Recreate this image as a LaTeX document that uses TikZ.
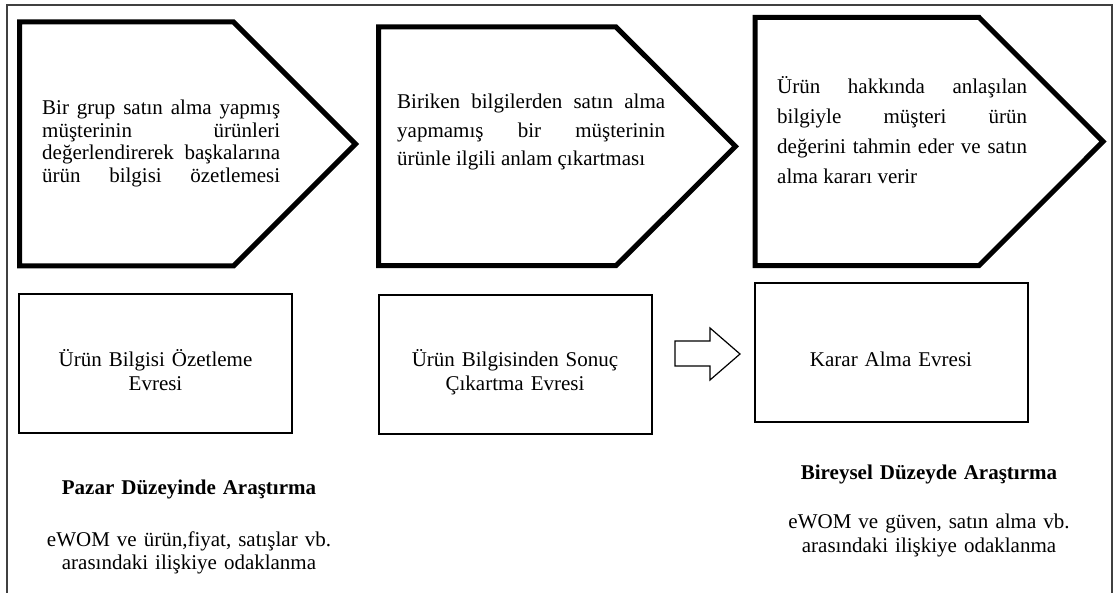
\documentclass[tikz,border=0pt]{standalone}
\usepackage{fontspec}
\setmainfont{Liberation Serif}
% one line set to a given width, its word spaces stretched to fill it
\newcommand\stretchline[2]{\makebox[#1][s]{\spaceskip=0pt\xspaceskip=0pt\relax #2}}
\begin{document}
\begin{tikzpicture}[x=1pt,y=-1pt,
  frameline/.style={draw=black!75, line width=1.3pt},
  stagebox/.style={draw=black, line width=5pt, line join=miter},
  phasebox/.style={draw=black, line width=2pt, inner sep=0pt, outer sep=0pt,
                   minimum width=273pt, minimum height=139pt},
  blockarrow/.style={draw=black, line width=1.2pt, line join=miter, fill=white},
  bodytext/.style={font=\fontsize{21}{24}\selectfont, inner sep=0pt, anchor=base,
                   text width=300pt, align=center},
  stagetext/.style={inner sep=0pt, anchor=base west, align=justify}
]
\useasboundingbox (0,0) rectangle (1117,593);

% open outer frame
\draw[frameline] (7,593) -- (7,5) -- (1112,5) -- (1112,593);

% the three stage pentagons
\draw[stagebox] (19.5,22) -- (233.5,22) -- (355.5,144) -- (233.5,266) -- (19.5,266) -- cycle;
\draw[stagebox] (378.5,27) -- (616,27) -- (735.5,146.4) -- (616,265.7) -- (378.5,265.7) -- cycle;
\draw[stagebox] (755,17.3) -- (979,17.3) -- (1103,141.5) -- (979,265.7) -- (755,265.7) -- cycle;

% stage descriptions
\node[stagetext, text width=238pt, font=\fontsize{21}{22.5}\selectfont] (s1) at (42,115)
  {\stretchline{238pt}{Bir grup satın alma yapmış}\\
   \stretchline{238pt}{müşterinin ürünleri}\\
   \stretchline{238pt}{değerlendirerek başkalarına}\\
   \stretchline{238pt}{ürün bilgisi özetlemesi}};
\node[stagetext, text width=268pt, font=\fontsize{21}{28.5}\selectfont] (s2) at (397,109)
  {\stretchline{268pt}{Biriken bilgilerden satın alma}\\
   \stretchline{268pt}{yapmamış bir müşterinin}\\
   ürünle ilgili anlam çıkartması};
\node[stagetext, text width=250pt, font=\fontsize{21}{30}\selectfont] (s3) at (777,94)
  {\stretchline{250pt}{Ürün hakkında anlaşılan}\\
   \stretchline{250pt}{bilgiyle müşteri ürün}\\
   \stretchline{250pt}{değerini tahmin eder ve satın}\\
   alma kararı verir};

% phase boxes
\node[phasebox] (p1) at (155.5,364) {};
\node[phasebox] (p2) at (515,364.5) {};
\node[phasebox] (p3) at (891,352.5) {};
\node[bodytext] (p1t) at (155.5,367) {Ürün Bilgisi Özetleme\\Evresi};
\node[bodytext] (p2t) at (515,367) {Ürün Bilgisinden Sonuç\\Çıkartma Evresi};
\node[bodytext] (p3t) at (891,367) {Karar Alma Evresi};

% block arrow between the second and third phase
\draw[blockarrow] (675,341) -- (710,341) -- (710,328) -- (740,354)
  -- (710,380) -- (710,366) -- (675,366) -- cycle;

% research levels
\node[bodytext] (m1) at (189,494) {\textbf{Pazar Düzeyinde Araştırma}};
\node[bodytext] (m2) at (189,546) {eWOM ve ürün,fiyat, satışlar vb.\\arasındaki ilişkiye odaklanma};
\node[bodytext] (i1) at (929,479) {\textbf{Bireysel Düzeyde Araştırma}};
\node[bodytext, font=\fontsize{21}{23.5}\selectfont] (i2) at (929,529) {eWOM ve güven, satın alma vb.\\arasındaki ilişkiye odaklanma};
\end{tikzpicture}
\end{document}
